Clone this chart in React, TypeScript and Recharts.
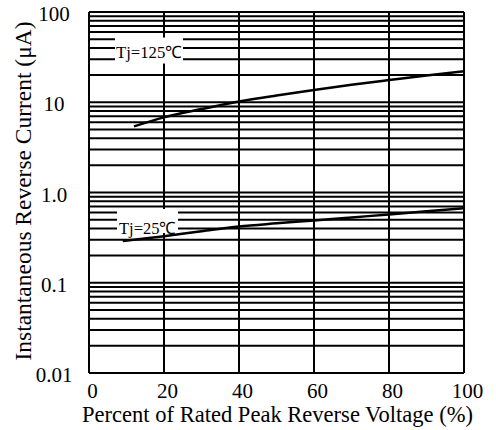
import React from "react";
import { LineChart, Line, XAxis, YAxis, ReferenceLine, ReferenceDot } from "recharts";

const pct125 = [12, 20, 30, 40, 50, 60, 70, 80, 90, 100];
const cur125 = [5.4, 6.8, 8.4, 10.2, 11.9, 13.7, 15.6, 17.6, 19.8, 22];
const pct25 = [9, 20, 30, 40, 50, 60, 70, 80, 90, 100];
const cur25 = [0.29, 0.328, 0.372, 0.42, 0.455, 0.49, 0.53, 0.57, 0.62, 0.67];

const xTicks = [0, 20, 40, 60, 80, 100];
const yTicks = [0.01, 0.1, 1, 10, 100];
const yTickLabels = ["0.01", "0.1", "1.0", "10", "100"];
const xGrid = [20, 40, 60, 80, 100];
const yGrid = [
  0.02, 0.03, 0.04, 0.05, 0.06, 0.07, 0.08, 0.09, 0.1,
  0.2, 0.3, 0.4, 0.5, 0.6, 0.7, 0.8, 0.9, 1,
  2, 3, 4, 5, 6, 7, 8, 9, 10,
  20, 30, 40, 50, 60, 70, 80, 90, 100,
];

const labels = [
  { x: 16, y: 37.4, text: "Tj=125℃", w: 68, h: 26, tl: 66, dy: 2 },
  { x: 15.6, y: 0.483, text: "Tj=25℃", w: 61, h: 24, tl: 57, dy: 7 },
];

const data125 = pct125.map((p, i) => ({ p, v: cur125[i] }));
const data25 = pct25.map((p, i) => ({ p, v: cur25[i] }));

const FONT = "'Liberation Serif', 'Times New Roman', serif";

const YTick = (props: any) => {
  const { x, y, payload } = props;
  const idx = yTicks.indexOf(payload.value);
  return (
    <text x={x - 35} y={y + 2} textAnchor="middle" dominantBaseline="central" fontFamily={FONT} fontSize={21} fill="#000">
      {idx >= 0 ? yTickLabels[idx] : String(payload.value)}
    </text>
  );
};

const XTick = (props: any) => {
  const { x, y, payload } = props;
  return (
    <text x={x + 3.5} y={y + 18} textAnchor="middle" dominantBaseline="central" fontFamily={FONT} fontSize={21} fill="#000">
      {String(payload.value)}
    </text>
  );
};

export default function App() {
  return (
    <div style={{ position: "absolute", left: 0, top: 0, width: 496, height: 430, background: "#fff" }}>
      <LineChart width={496} height={430} margin={{ top: 12, right: 32, bottom: 0, left: 0 }}>
        <XAxis
          type="number"
          dataKey="p"
          domain={[0, 100]}
          ticks={xTicks}
          height={57}
          tickSize={0}
          tickMargin={0}
          tick={<XTick />}
          axisLine={{ stroke: "#000", strokeWidth: 2 }}
          tickLine={false}
          allowDataOverflow
          label={{
            content: (p: any) => {
              const vb = p.viewBox;
              return (
                <text x={vb.x + vb.width / 2 + 1} y={vb.y + 48.5} textAnchor="middle" fontFamily={FONT} fontSize={22.4} fill="#000" textLength={391} lengthAdjust="spacingAndGlyphs">
                  Percent of Rated Peak Reverse Voltage (%)
                </text>
              );
            },
          }}
        />
        <YAxis
          type="number"
          scale="log"
          domain={[0.01, 100]}
          ticks={yTicks}
          width={89}
          tickSize={0}
          tickMargin={0}
          tick={<YTick />}
          axisLine={{ stroke: "#000", strokeWidth: 2 }}
          tickLine={false}
          allowDataOverflow
          label={{
            content: (p: any) => {
              const vb = p.viewBox;
              const cx = vb.x + 31;
              const cy = vb.y + vb.height / 2 - 1.5;
              return (
                <text x={cx} y={cy} transform={`rotate(-90, ${cx}, ${cy})`} textAnchor="middle" fontFamily={FONT} fontSize={23.5} fill="#000" textLength={339} lengthAdjust="spacingAndGlyphs">
                  Instantaneous Reverse Current (μA)
                </text>
              );
            },
          }}
        />
        {yGrid.map((v) => (
          <ReferenceLine key={"h" + v} y={v} stroke="#000" strokeWidth={2} />
        ))}
        {xGrid.map((v) => (
          <ReferenceLine key={"v" + v} x={v} stroke="#000" strokeWidth={2} />
        ))}
        {labels.map((l) => (
          <ReferenceDot
            key={l.text}
            x={l.x}
            y={l.y}
            r={1}
            shape={(p: any) => (
              <g>
                <rect x={p.cx - l.w / 2} y={p.cy - l.h / 2} width={l.w} height={l.h} fill="#fff" />
                <text x={p.cx} y={p.cy + l.dy} textAnchor="middle" dominantBaseline="central" fontFamily={FONT} fontSize={17} fill="#000" textLength={l.tl} lengthAdjust="spacingAndGlyphs">
                  {l.text}
                </text>
              </g>
            )}
          />
        ))}
        <Line data={data125} dataKey="v" type="monotone" stroke="#000" strokeWidth={2.5} dot={false} isAnimationActive={false} />
        <Line data={data25} dataKey="v" type="monotone" stroke="#000" strokeWidth={2.5} dot={false} isAnimationActive={false} />
      </LineChart>
    </div>
  );
}
